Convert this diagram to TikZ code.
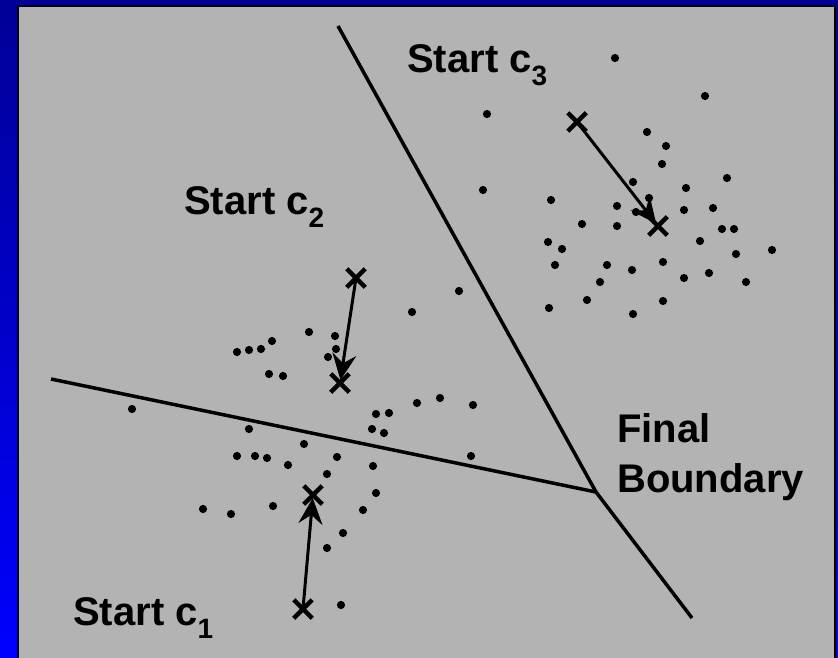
\documentclass[tikz,border=0pt]{standalone}
\usepackage{fontspec}
\setmainfont{Liberation Sans}
\usetikzlibrary{arrows.meta,shapes.misc}

\definecolor{slidetop}{RGB}{0,0,150}
\definecolor{slidebottom}{RGB}{0,0,255}
\definecolor{panel}{RGB}{179,179,179}
\newcommand{\csub}[1]{c\raisebox{-13pt}{\fontsize{28}{28}\selectfont #1}}

\begin{document}
\begin{tikzpicture}[x=1pt,y=-1pt]
  \tikzset{lbl/.style={inner sep=0pt,font=\fontsize{40}{50}\selectfont\bfseries,align=left},
    mean/.style={cross out,draw,line width=4.5pt,minimum size=14pt,inner sep=0pt},
    move/.style={line width=3pt,-{Stealth[length=26pt,width=24pt,inset=9pt]},shorten >=3pt},
    boundary/.style={line width=3.5pt}}

  \useasboundingbox (0,0) rectangle (838,657);
  \shade[top color=slidetop,bottom color=slidebottom] (0,0) rectangle (838,657);
  \filldraw[fill=panel,draw=black,line width=1.5pt] (18,6) rectangle (835,680);

  % decision boundary
  \coordinate (meet) at (596,492);
  \coordinate (west) at (51,379);
  \coordinate (north) at (338,26);
  \coordinate (south) at (692,618);
  \draw[boundary] (west) -- (meet);
  \draw[boundary] (north) -- (meet);
  \draw[boundary] (meet) -- (south);

  % data points
  \foreach \p in {(615,58),(705,96),(487,114),(483,190),(647,132),(666,146),(662,164),
      (633,182),(686,188),(727,178),(551,200),(649,198),(617,206),(684,210),(713,208),
      (636,212),(582,224),(617,226),(722,229),(734,229),(700,241),(548,242),(562,249),
      (772,250),(736,254),(555,265),(607,265),(632,270),(663,262),(684,278),(709,273),
      (600,282),(746,282),(587,300),(663,301),(549,308),(633,314)}
    \fill \p circle (4.1);
  \foreach \p in {(459,291),(412,312),(309,332),(335,336),(272,341),(261,349),(249,350),
      (237,352),(336,349),(328,357),(269,374),(283,376),(417,403),(440,398),(473,405),
      (376,414),(389,413),(372,429),(384,433),(249,429),(304,444),(237,456),(255,456),
      (267,458),(288,465),(337,457),(373,466),(327,474),(471,456),(376,493),(363,510),
      (203,509),(231,514),(273,506),(343,533),(327,548),(341,605),(132,409)}
    \fill \p circle (4.1);

  % centres, start and end
  \node[mean] (s1) at (303,609) {};
  \node[mean] (e1) at (313,495) {};
  \node[mean] (s2) at (356,278) {};
  \node[mean] (e2) at (340,383) {};
  \node[mean] (s3) at (577,122) {};
  \node[mean] (e3) at (658,226) {};
  \draw[move] (s1.center) -- (e1.center);
  \draw[move] (s2.center) -- (e2.center);
  \draw[move] (s3.center) -- (e3.center);

  \node[lbl,anchor=base west] (start1) at (73,625) {Start \csub{1}};
  \node[lbl,anchor=base west] (start2) at (184,214) {Start \csub{2}};
  \node[lbl,anchor=base west] (start3) at (407,72) {Start \csub{3}};
  \node[lbl,anchor=north west] (final) at (617,413) {Final\\Boundary};
\end{tikzpicture}
\end{document}
